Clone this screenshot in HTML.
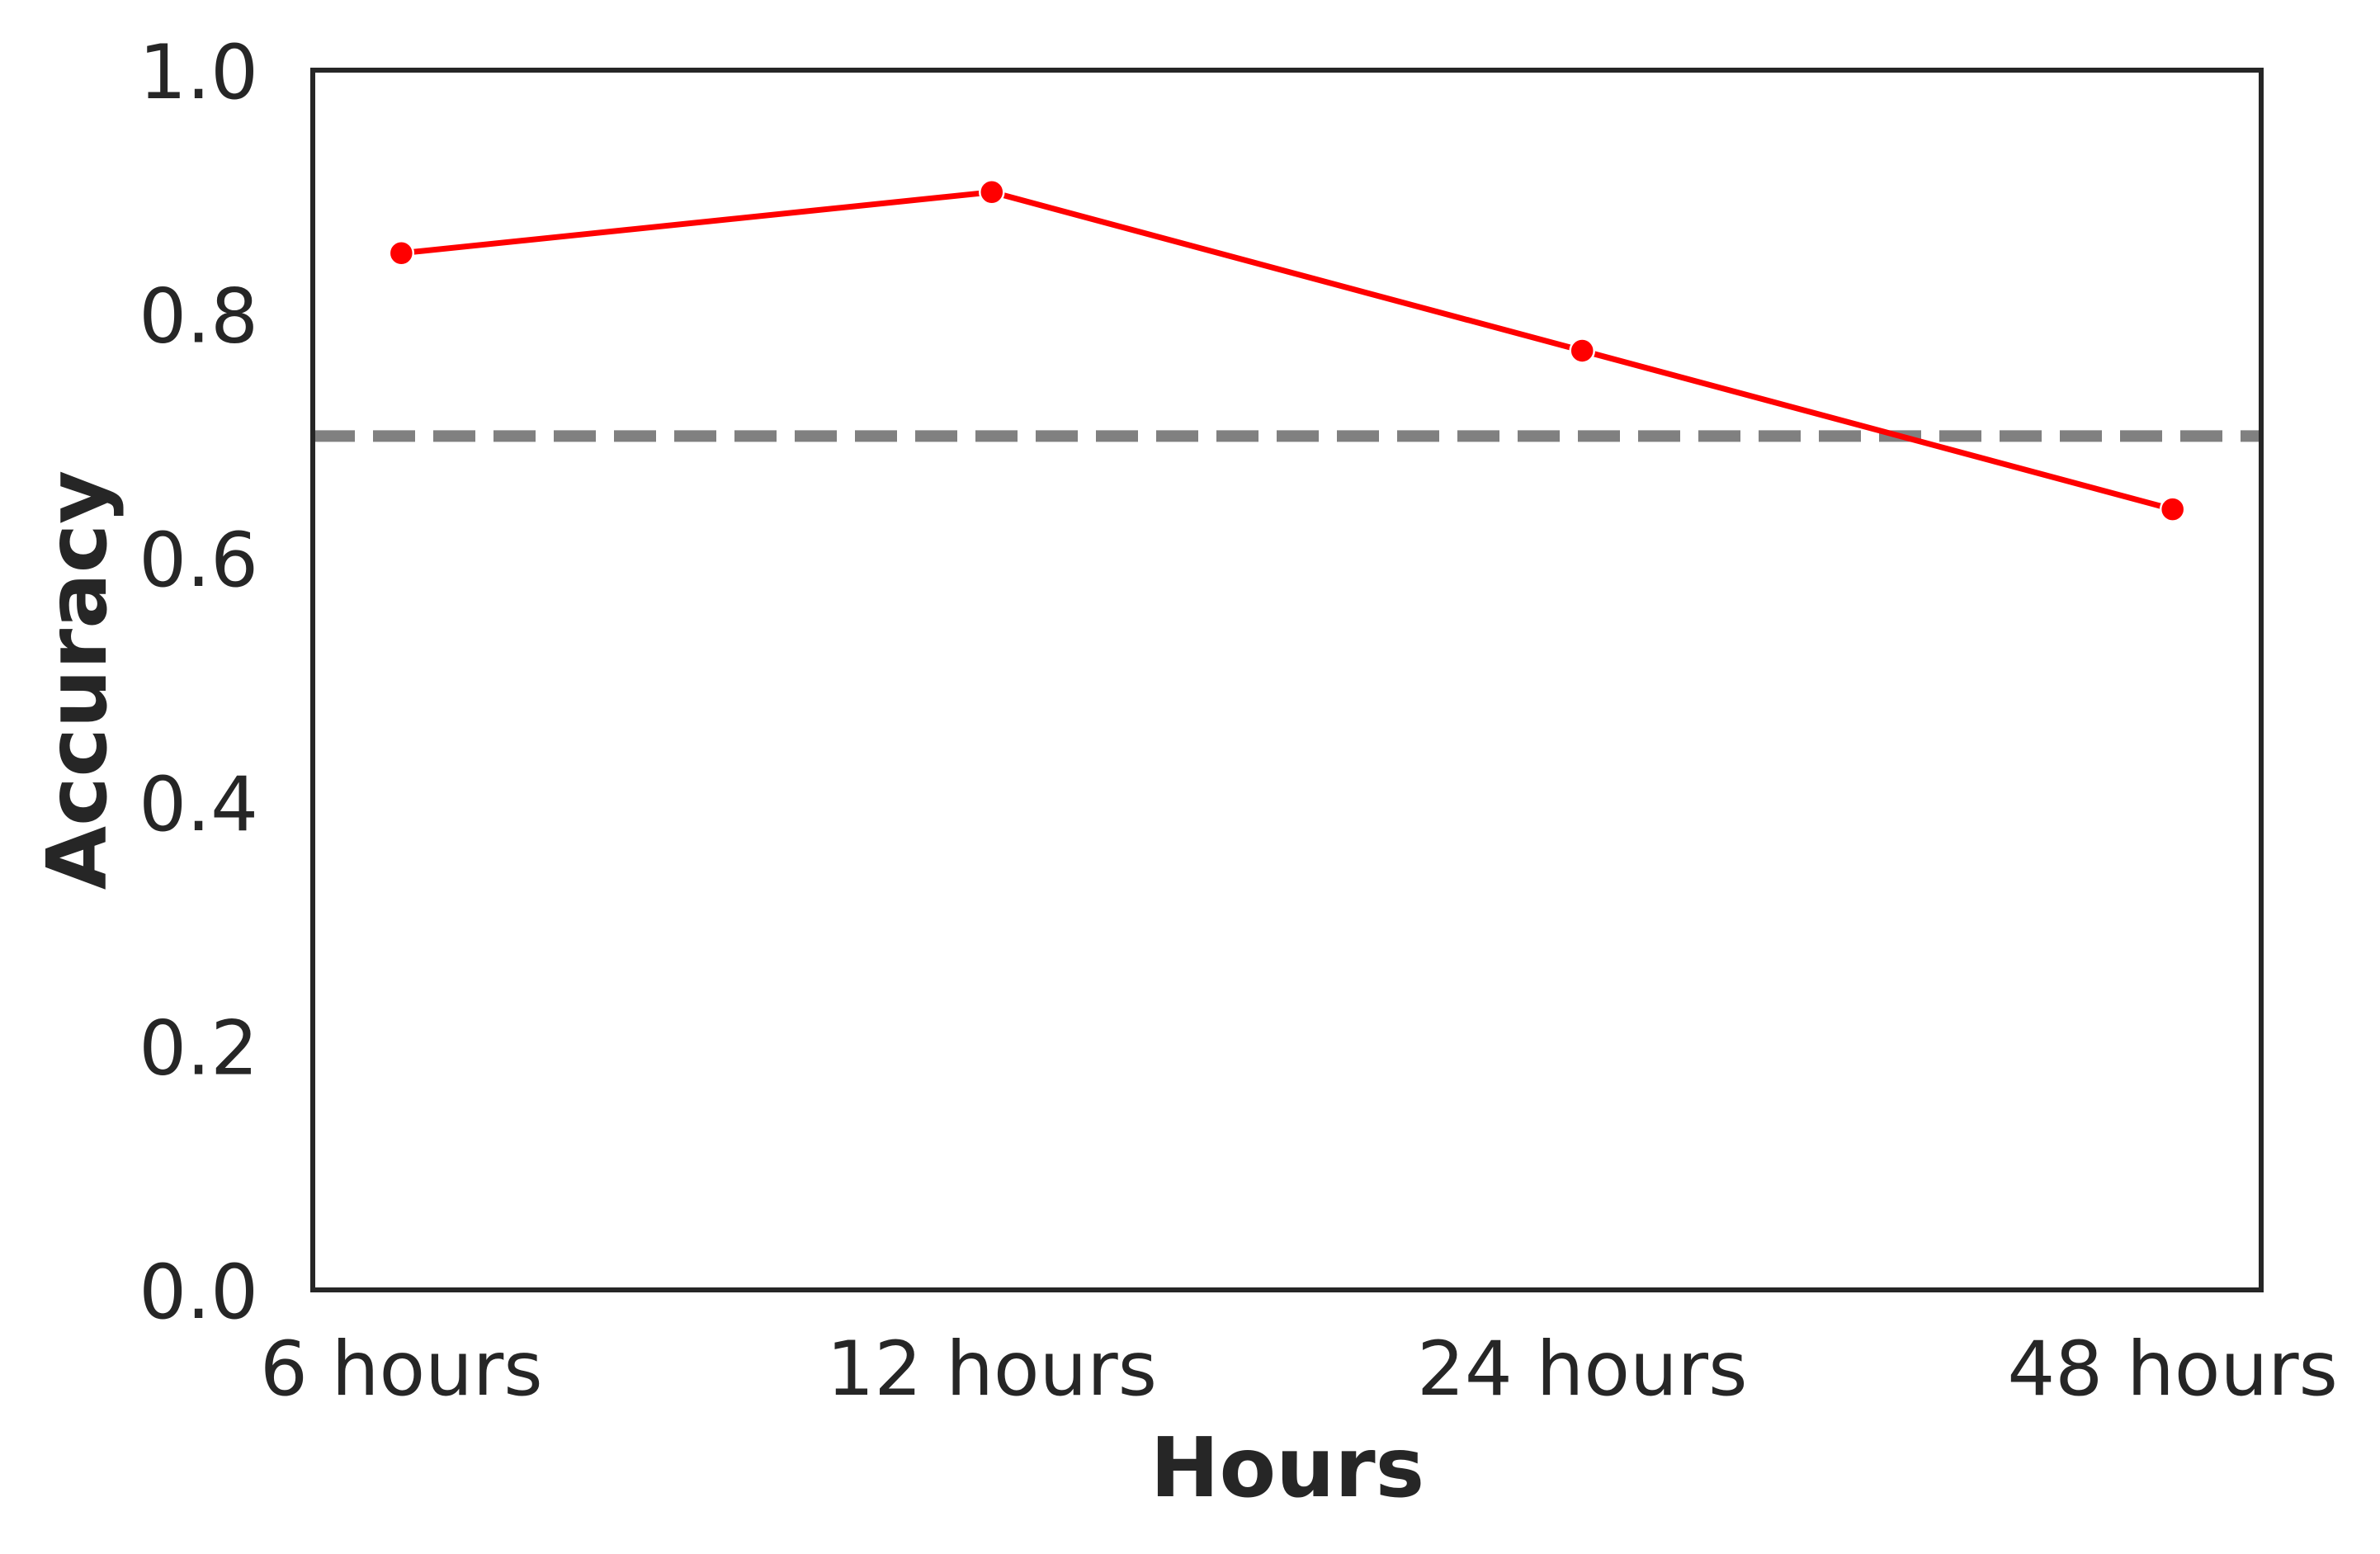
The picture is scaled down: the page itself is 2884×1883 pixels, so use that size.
<!DOCTYPE html>
<html><head><meta charset="utf-8"><style>html,body{margin:0;padding:0;background:#fff}svg{display:block}</style></head>
<body>
<svg id="chart" width="2884" height="1883" viewBox="0 0 2884 1883" xmlns="http://www.w3.org/2000/svg" font-family="'DejaVu Sans','Liberation Sans',sans-serif" fill="#262626">
<rect width="2884" height="1883" fill="#fff"/>
<g id="marks"></g>
<rect x="379" y="85" width="2361" height="1478" fill="none" stroke="#262626" stroke-width="6"/>
<g id="ticks"></g>
<text x="1560" y="1813" font-size="100" font-weight="bold" text-anchor="middle">Hours</text>
<text transform="translate(128,824) rotate(-90)" font-size="100" font-weight="bold" text-anchor="middle">Accuracy</text>
</svg>
<script>
const categories = ["6 hours","12 hours","24 hours","48 hours"];
const accuracy = [0.85, 0.90, 0.77, 0.64];
const baseline = 0.70;
const yTicks = [0.0, 0.2, 0.4, 0.6, 0.8, 1.0];
const yTickLabels = ["0.0","0.2","0.4","0.6","0.8","1.0"];

const NS = "http://www.w3.org/2000/svg";
const L = 379, R = 2740, T = 85, B = 1563;
const xMin = -0.15, xMax = categories.length - 1 + 0.15;
function xs(i){ return L + (i - xMin) / (xMax - xMin) * (R - L); }
function ys(v){ return B - v * (B - T); }
function mk(tag, attrs){ const e = document.createElementNS(NS, tag); for (const k in attrs) e.setAttribute(k, attrs[k]); return e; }

const marks = document.getElementById('marks');
const ticks = document.getElementById('ticks');

const dl = mk('line', {x1: L, x2: R, y1: ys(baseline), y2: ys(baseline), stroke: '#808080', 'stroke-width': 14, 'stroke-dasharray': '51 22'});


marks.appendChild(dl);

const pts = accuracy.map((v, i) => xs(i) + ',' + ys(v)).join(' ');
const line = mk('polyline', {points: pts, fill: 'none', stroke: '#ff0000', 'stroke-width': 7, 'stroke-linejoin': 'round'});


marks.appendChild(line);

accuracy.forEach((v, i) => {
  const c = mk('circle', {cx: xs(i), cy: ys(v), r: 14.5, fill: '#ff0000', stroke: '#fff', 'stroke-width': 2.5});
  
  
  marks.appendChild(c);
});

yTicks.forEach((v, i) => {
  const t = mk('text', {x: 313, y: ys(v) + 34, 'font-size': 91, 'text-anchor': 'end'});
  t.textContent = yTickLabels[i];
  
  
  ticks.appendChild(t);
});

categories.forEach((c, i) => {
  const t = mk('text', {x: xs(i), y: 1690, 'font-size': 91, 'text-anchor': 'middle'});
  t.textContent = c;
  
  
  ticks.appendChild(t);
});
</script>
</body></html>
